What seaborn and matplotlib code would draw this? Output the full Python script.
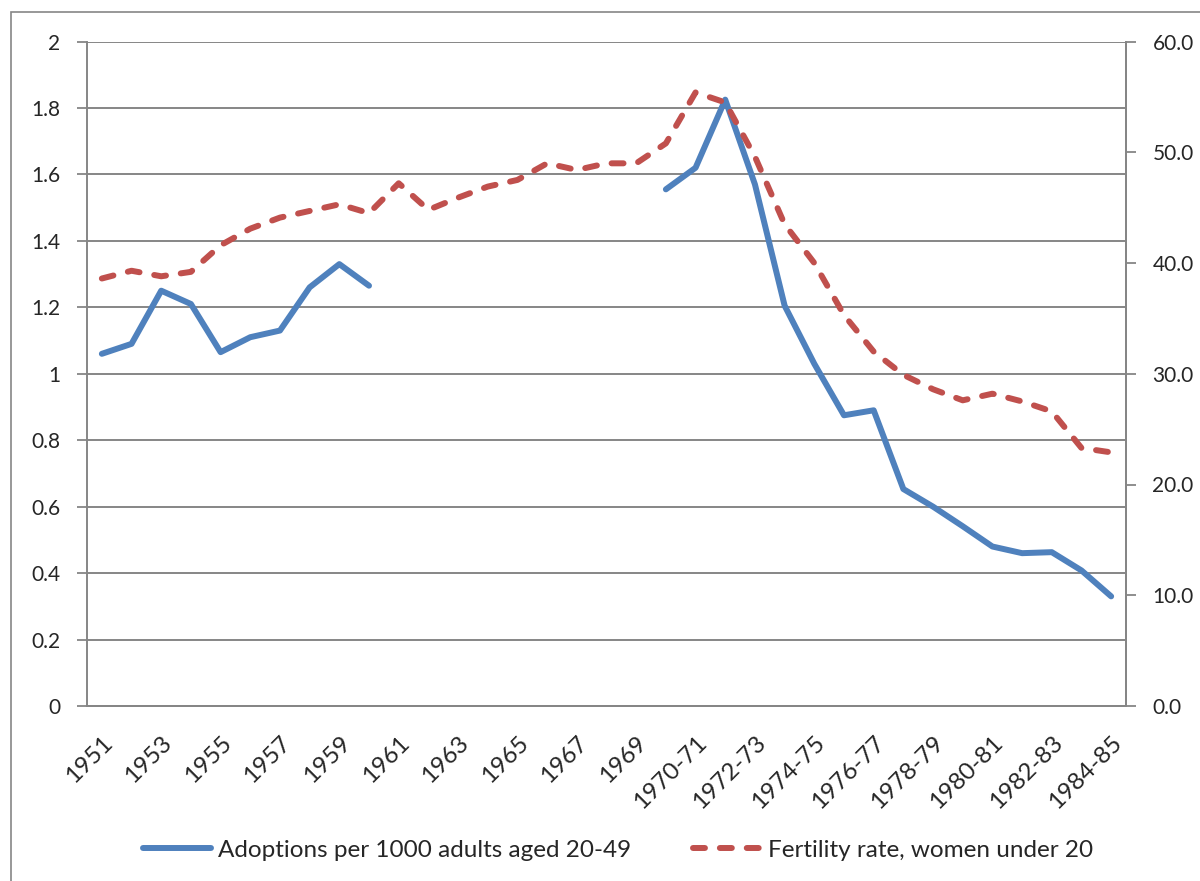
import numpy as np
import pandas as pd
import matplotlib
matplotlib.use("Agg")
import matplotlib.pyplot as plt
import matplotlib.ticker as mticker
from matplotlib.patches import Rectangle
import seaborn as sns

# categories: single years then financial years
periods = [str(y) for y in range(1951, 1971)] + \
    [f"{y}-{str(y + 1)[2:]}" for y in range(1970, 1985)]

# adoptions per 1000 adults aged 20-49 (left axis), gap 1961-1969
adoptions = [1.06, 1.09, 1.25, 1.21, 1.065, 1.11, 1.13, 1.26, 1.33, 1.265,
             np.nan, np.nan, np.nan, np.nan, np.nan, np.nan, np.nan, np.nan, np.nan,
             1.555, 1.62, 1.825, 1.57, 1.205, 1.03, 0.875, 0.89, 0.653, 0.6,
             0.541, 0.48, 0.46, 0.463, 0.408, 0.33]

# fertility rate, women under 20 (right axis)
fertility = [38.6, 39.3, 38.8, 39.2, 41.6, 43.1, 44.1, 44.7, 45.3, 44.5,
             47.2, 44.8, 45.9, 46.9, 47.5, 49.0, 48.4, 49.0, 49.0, 50.8,
             55.4, 54.5, 49.6, 43.5, 40.0, 35.3, 32.0, 29.9, 28.6, 27.6,
             28.2, 27.5, 26.6, 23.3, 22.9]

blue = "#4F81BD"
red = "#C0504D"
grey = "#868686"

df = pd.DataFrame({"x": np.arange(len(periods)), "adoptions": adoptions,
                   "fertility": fertility})
# split adoptions into unbroken runs so the gap stays empty
df["run"] = df["adoptions"].isna().cumsum()
adopt = df.dropna(subset=["adoptions"])

sns.set_style("white")
plt.rcParams["font.family"] = ["Lato", "DejaVu Sans"]
plt.rcParams["font.size"] = 15

fig = plt.figure(figsize=(12, 8.81), dpi=100)
ax = fig.add_axes([87 / 1200, 1 - 706 / 881, (1126 - 87) / 1200, (706 - 41.5) / 881])
ax2 = ax.twinx()

sns.lineplot(data=adopt, x="x", y="adoptions", units="run", estimator=None,
             color=blue, lw=4.3, ax=ax, legend=False)
sns.lineplot(data=df, x="x", y="fertility", color=red, lw=4.3, ax=ax2, legend=False)
for ln in ax.lines:
    ln.set_solid_capstyle("round")
    ln.set_solid_joinstyle("round")
for ln in ax2.lines:
    ln.set_dashes((2.0, 2.5))
    ln.set_dash_capstyle("round")
    ln.set_dash_joinstyle("round")

ax.set_xlim(-0.5, len(periods) - 0.5)
ax.set_ylim(0, 2)
ax2.set_ylim(0, 60)

ax.set_yticks(np.arange(0, 2.01, 0.2))
ax.yaxis.set_major_formatter(mticker.FuncFormatter(lambda v, p: f"{v:g}"))
ax2.set_yticks(np.arange(0, 60.1, 10))
ax2.yaxis.set_major_formatter(mticker.FuncFormatter(lambda v, p: f"{v:.1f}"))

ax.set_xticks(df["x"][::2])
ax.set_xticklabels(periods[::2], rotation=45, ha="right", rotation_mode="anchor",
                   fontsize=17.5)
ax.set_xticks(np.arange(-0.5, len(periods)), minor=True)
ax.tick_params(axis="x", which="major", length=0, pad=19)
ax.tick_params(axis="x", which="minor", length=7, width=1.3, color=grey, direction="out")
ax.tick_params(axis="y", length=7, width=1.3, color=grey, direction="out", pad=12)
ax2.tick_params(axis="y", length=7, width=1.3, color=grey, direction="out", pad=12)

ax.grid(axis="y", color=grey, lw=1.4)
ax.grid(axis="x", visible=False)
ax2.grid(False)
ax.set_axisbelow(True)
ax.set_xlabel("")
ax.set_ylabel("")
ax2.set_ylabel("")

for a in (ax, ax2):
    a.spines["top"].set_visible(False)
    for s in ("left", "right", "bottom"):
        a.spines[s].set_color(grey)
        a.spines[s].set_linewidth(1.4)
ax2.spines["left"].set_visible(False)

handles = [plt.Line2D([], [], color=blue, lw=4.3, solid_capstyle="round"),
           plt.Line2D([], [], color=red, lw=4.3, dashes=(2.0, 2.5), dash_capstyle="round")]
fig.legend(handles, ["Adoptions per 1000 adults aged 20-49",
                     "Fertility rate, women under 20"],
           loc="center", bbox_to_anchor=(618 / 1200, 1 - 850 / 881), ncol=2,
           frameon=False, fontsize=17.5, handlelength=2.8, handletextpad=0.3,
           columnspacing=2.55)

# outer chart border
fig.patches.append(Rectangle((11 / 1200, -0.1), 1.2, 1 - 12 / 881 + 0.1,
                             transform=fig.transFigure, fill=False,
                             edgecolor=grey, lw=1.2))

fig.savefig("out.png", dpi=100)
